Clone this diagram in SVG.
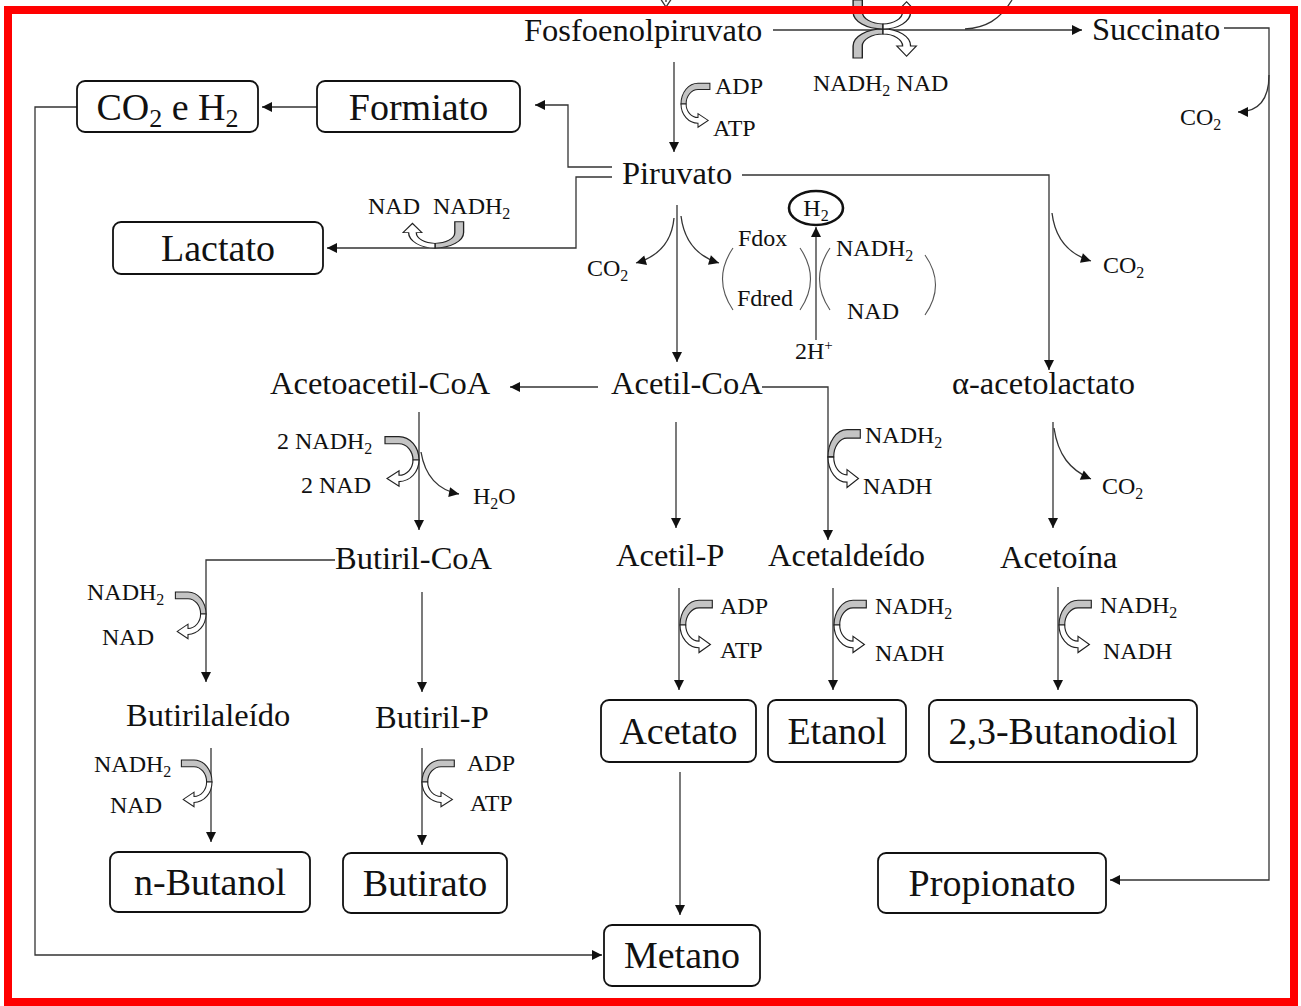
<svg xmlns="http://www.w3.org/2000/svg" xmlns:xlink="http://www.w3.org/1999/xlink" width="1301" height="1006" viewBox="0 0 1301 1006">
  <style>
    text { font-family: "Liberation Serif", "Times New Roman", serif; fill: #111; }
    .mid { font-size: 32.5px; }
    .box { font-size: 38px; text-anchor: middle; }
    .sm { font-size: 24px; }
    .node rect { fill: #fff; stroke: #111; stroke-width: 1.8; }
    .conn path { fill: none; stroke: #333; stroke-width: 1.3; }
    .conn path.arr { marker-end: url(#ah); }
    .brk path { fill: none; stroke: #555; stroke-width: 1.1; }
    .cgray { fill: #c4c4c4; stroke: #222; stroke-width: 1.2; }
    .chol { fill: #fff; stroke: #222; stroke-width: 1.2; }
  </style>
  <defs>
    <marker id="ah" viewBox="0 0 10 10" refX="10" refY="5" markerWidth="11" markerHeight="10" markerUnits="userSpaceOnUse" orient="auto">
      <path d="M0,0 L10,5 L0,10 Z" fill="#111"/>
    </marker>
    <!-- cofactor turn: grey tail top-right, bends round the left, hollow head bottom-right -->
    <g id="turn">
      <path class="cgray" d="M34,-26 L20,-26 A20,26 0 0 0 0,0 L6,0 A14,18 0 0 1 20,-18 L34,-18 Z"/>
      <path class="chol" d="M0,0 A20,24 0 0 0 20,24 L20,29 L32,20.5 L20,12 L20,17 A14,17 0 0 1 6,0 Z"/>
    </g>
  </defs>

  <rect x="0" y="0" width="1301" height="1006" fill="#fff"/>

  <!-- connectors -->
  <g id="connectors" class="conn">
    <path class="arr" d="M674,62 V152"/>
    <path class="arr" d="M773,30 H1082"/>
    <path class="arr" d="M1224,28 H1269 V880 H1110"/>
    <path class="arr" d="M1269,75 C1269,100 1258,112 1238,112"/>
    <path class="arr" d="M612,167 H568 V105 H535"/>
    <path class="arr" d="M612,177 H576 V248 H327"/>
    <path class="arr" d="M317,107 H262"/>
    <path class="arr" d="M77,107 H35 V955 H602"/>
    <path class="arr" d="M677,205 V362"/>
    <path class="arr" d="M674,218 C672,240 660,256 636,263"/>
    <path class="arr" d="M681,216 C684,240 696,256 719,263"/>
    <path class="arr" d="M742,175 H1049 V370"/>
    <path class="arr" d="M1052,213 C1055,238 1068,254 1091,261"/>
    <path class="arr" d="M816,340 V227"/>
    <path class="arr" d="M598,387 H510"/>
    <path class="arr" d="M762,387 H828 V540"/>
    <path class="arr" d="M676,422 V528"/>
    <path class="arr" d="M419,412 V530"/>
    <path class="arr" d="M421,452 C425,476 438,490 459,494"/>
    <path class="arr" d="M335,560 H206 V682"/>
    <path class="arr" d="M422,592 V692"/>
    <path class="arr" d="M211,748 V842"/>
    <path class="arr" d="M422,748 V845"/>
    <path class="arr" d="M679,588 V690"/>
    <path class="arr" d="M833,588 V690"/>
    <path class="arr" d="M1053,422 V528"/>
    <path class="arr" d="M1054,428 C1058,455 1070,470 1091,479"/>
    <path class="arr" d="M1058,587 V690"/>
    <path class="arr" d="M680,772 V915"/>
    <path d="M965,29 C985,28 1000,20 1012,0"/>
    <path d="M666,-8 V2"/>
    <path d="M660,-2 L672,-2 L666,7 Z" fill="#111" stroke="none"/>
  </g>

  <!-- ferredoxin / NADH brackets -->
  <g id="brackets" class="brk">
    <path d="M733,248 Q712,279 733,310"/>
    <path d="M800,248 Q821,279 800,310"/>
    <path d="M830,248 Q809,279 830,310"/>
    <path d="M925,255 Q946,285 925,315"/>
  </g>

  <!-- cofactor turns -->
  <g id="cofactor-turns">
    <use xlink:href="#turn" href="#turn" transform="translate(681,104) scale(0.85,0.8)"/>
    <use xlink:href="#turn" href="#turn" transform="translate(828,457) scale(0.95,1.05)"/>
    <use xlink:href="#turn" href="#turn" transform="translate(680,625) scale(0.95,0.95)"/>
    <use xlink:href="#turn" href="#turn" transform="translate(834,625) scale(0.95,0.95)"/>
    <use xlink:href="#turn" href="#turn" transform="translate(1059,625) scale(0.95,0.95)"/>
    <use xlink:href="#turn" href="#turn" transform="translate(422,782) scale(0.95,0.85)"/>
    <use xlink:href="#turn" href="#turn" transform="translate(419,460) scale(-1,0.9)"/>
    <use xlink:href="#turn" href="#turn" transform="translate(206,614) scale(-0.9,0.85)"/>
    <use xlink:href="#turn" href="#turn" transform="translate(212,782) scale(-0.9,0.85)"/>
    <use xlink:href="#turn" href="#turn" transform="translate(435,248) matrix(0,-1,-1,0,0,0) scale(0.77,1.1)"/>
    <use xlink:href="#turn" href="#turn" transform="translate(883,29) matrix(0,1,1,0,0,0) scale(0.85,1.15)"/>
    <use xlink:href="#turn" href="#turn" transform="translate(883,29) matrix(0,-1,1,0,0,0) scale(0.85,1.15)"/>
  </g>

  <!-- boxed end products -->
  <g id="n-co2h2" class="node">
    <rect x="77" y="81" width="181" height="51" rx="8"/>
    <text class="box" x="167.5" y="120">CO<tspan font-size="26" dy="7">2</tspan><tspan dy="-7"> e H</tspan><tspan font-size="26" dy="7">2</tspan></text>
  </g>
  <g id="n-formiato" class="node">
    <rect x="317" y="81" width="203" height="51" rx="8"/>
    <text class="box" x="418.5" y="120">Formiato</text>
  </g>
  <g id="n-lactato" class="node">
    <rect x="113" y="222" width="210" height="52" rx="8"/>
    <text class="box" x="218" y="261">Lactato</text>
  </g>
  <g id="n-acetato" class="node">
    <rect x="601" y="700" width="155" height="62" rx="8"/>
    <text class="box" x="678.5" y="744">Acetato</text>
  </g>
  <g id="n-etanol" class="node">
    <rect x="768" y="700" width="138" height="62" rx="8"/>
    <text class="box" x="837" y="744">Etanol</text>
  </g>
  <g id="n-butanodiol" class="node">
    <rect x="929" y="700" width="268" height="62" rx="8"/>
    <text class="box" x="1063" y="744">2,3-Butanodiol</text>
  </g>
  <g id="n-nbutanol" class="node">
    <rect x="110" y="852" width="200" height="60" rx="8"/>
    <text class="box" x="210" y="895">n-Butanol</text>
  </g>
  <g id="n-butirato" class="node">
    <rect x="343" y="853" width="164" height="60" rx="8"/>
    <text class="box" x="425" y="896">Butirato</text>
  </g>
  <g id="n-propionato" class="node">
    <rect x="878" y="853" width="228" height="60" rx="8"/>
    <text class="box" x="992" y="896">Propionato</text>
  </g>
  <g id="n-metano" class="node">
    <rect x="604" y="925" width="156" height="61" rx="8"/>
    <text class="box" x="682" y="968">Metano</text>
  </g>

  <!-- intermediates -->
  <g id="n-fosfoenolpiruvato"><text class="mid" x="524" y="41">Fosfoenolpiruvato</text></g>
  <g id="n-succinato"><text class="mid" x="1092" y="40">Succinato</text></g>
  <g id="n-piruvato"><text class="mid" x="622" y="184">Piruvato</text></g>
  <g id="n-acetoacetilcoa"><text class="mid" x="270" y="394">Acetoacetil-CoA</text></g>
  <g id="n-acetilcoa"><text class="mid" x="611" y="394">Acetil-CoA</text></g>
  <g id="n-acetolactato"><text class="mid" x="952" y="394">α-acetolactato</text></g>
  <g id="n-butirilcoa"><text class="mid" x="335" y="569">Butiril-CoA</text></g>
  <g id="n-acetilp"><text class="mid" x="616" y="566">Acetil-P</text></g>
  <g id="n-acetaldeido"><text class="mid" x="768" y="566">Acetaldeído</text></g>
  <g id="n-acetoina"><text class="mid" x="1000" y="568">Acetoína</text></g>
  <g id="n-butirilaleido"><text class="mid" x="126" y="726">Butirilaleído</text></g>
  <g id="n-butirilp"><text class="mid" x="375" y="728">Butiril-P</text></g>

  <!-- hydrogen -->
  <g id="n-h2">
    <ellipse cx="816" cy="208" rx="27" ry="17" fill="#fff" stroke="#111" stroke-width="2.6"/>
    <text class="sm" x="816" y="216" text-anchor="middle">H<tspan font-size="16" dy="5">2</tspan></text>
  </g>

  <!-- cofactor and by-product labels -->
  <g id="labels" class="sm">
    <text class="sm" x="715" y="94">ADP</text>
    <text class="sm" x="713" y="136">ATP</text>
    <text class="sm" x="813" y="91">NADH<tspan font-size="16" dy="5">2</tspan><tspan dy="-5"> NAD</tspan></text>
    <text class="sm" x="1180" y="125">CO<tspan font-size="16" dy="5">2</tspan></text>
    <text class="sm" x="368" y="214">NAD</text>
    <text class="sm" x="433" y="214">NADH<tspan font-size="16" dy="5">2</tspan></text>
    <text class="sm" x="587" y="276">CO<tspan font-size="16" dy="5">2</tspan></text>
    <text class="sm" x="738" y="246">Fdox</text>
    <text class="sm" x="737" y="306">Fdred</text>
    <text class="sm" x="836" y="256">NADH<tspan font-size="16" dy="5">2</tspan></text>
    <text class="sm" x="847" y="319">NAD</text>
    <text class="sm" x="795" y="359">2H<tspan font-size="15" dy="-9">+</tspan></text>
    <text class="sm" x="1103" y="273">CO<tspan font-size="16" dy="5">2</tspan></text>
    <text class="sm" x="277" y="449">2 NADH<tspan font-size="16" dy="5">2</tspan></text>
    <text class="sm" x="301" y="493">2 NAD</text>
    <text class="sm" x="473" y="504">H<tspan font-size="16" dy="5">2</tspan><tspan dy="-5">O</tspan></text>
    <text class="sm" x="865" y="443">NADH<tspan font-size="16" dy="5">2</tspan></text>
    <text class="sm" x="863" y="494">NADH</text>
    <text class="sm" x="1102" y="494">CO<tspan font-size="16" dy="5">2</tspan></text>
    <text class="sm" x="87" y="600">NADH<tspan font-size="16" dy="5">2</tspan></text>
    <text class="sm" x="102" y="645">NAD</text>
    <text class="sm" x="720" y="614">ADP</text>
    <text class="sm" x="720" y="658">ATP</text>
    <text class="sm" x="875" y="614">NADH<tspan font-size="16" dy="5">2</tspan></text>
    <text class="sm" x="875" y="661">NADH</text>
    <text class="sm" x="1100" y="613">NADH<tspan font-size="16" dy="5">2</tspan></text>
    <text class="sm" x="1103" y="659">NADH</text>
    <text class="sm" x="94" y="772">NADH<tspan font-size="16" dy="5">2</tspan></text>
    <text class="sm" x="110" y="813">NAD</text>
    <text class="sm" x="467" y="771">ADP</text>
    <text class="sm" x="470" y="811">ATP</text>
  </g>

  <!-- frame -->
  <rect x="8" y="10" width="1286" height="992" fill="none" stroke="#ff0000" stroke-width="8"/>
</svg>
